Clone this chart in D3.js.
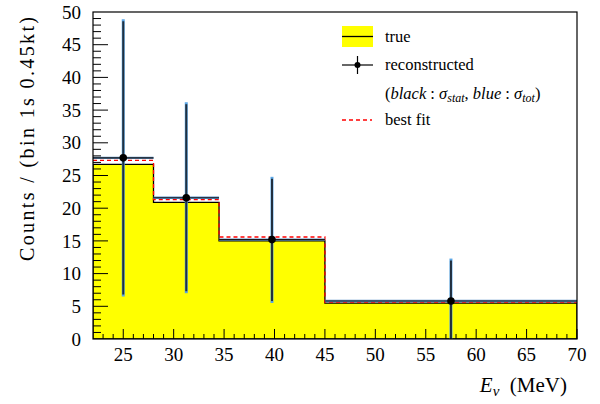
<!DOCTYPE html>
<html>
<head>
<meta charset="utf-8">
<script src="https://cdn.jsdelivr.net/npm/d3@7"></script>
<style>
  body { margin: 0; background: #fff; }
  text { font-family: "Liberation Serif", "DejaVu Serif", serif; fill: #000; }
</style>
</head>
<body>
<svg id="chart" width="600" height="404"></svg>
<script>
// bins (MeV)
const binEdges = [22, 28, 34.5, 45, 70];
const trueCounts = [26.7, 20.9, 15.0, 5.5];
const recoCounts = [27.7, 21.6, 15.2, 5.8];
const fitCounts = [27.3, 21.3, 15.6, 5.6];
// error bar ends [low, high]
const statErr = [[6.8, 48.6], [7.3, 35.9], [5.8, 24.5], [-0.3, 12.0]];
const totErr = [[6.5, 48.9], [7.0, 36.2], [5.5, 24.8], [-0.6, 12.3]];
const xTicks = [25, 30, 35, 40, 45, 50, 55, 60, 65, 70];
const yTicks = [0, 5, 10, 15, 20, 25, 30, 35, 40, 45, 50];

const svg = d3.select("#chart");
const pL = 93, pR = 577, pT = 12, pB = 339;

const x = d3.scaleLinear().domain([22, 70]).range([pL, pR]);
const y = d3.scaleLinear().domain([0, 50]).range([pB, pT]);

svg.append("defs").append("clipPath").attr("id", "plotClip")
  .append("rect")
  .attr("x", pL).attr("y", pT)
  .attr("width", pR - pL).attr("height", pB - pT);

const plot = svg.append("g").attr("clip-path", "url(#plotClip)");

// step path from bin values
function stepPoints(vals) {
  const pts = [[binEdges[0], 0]];
  vals.forEach((v, i) => {
    pts.push([binEdges[i], v]);
    pts.push([binEdges[i + 1], v]);
  });
  pts.push([binEdges[binEdges.length - 1], 0]);
  return pts;
}
const stepLine = d3.line().x(d => x(d[0])).y(d => y(d[1]));

// true histogram: yellow fill, black outline
plot.append("path")
  .attr("d", stepLine(stepPoints(trueCounts)) + "Z")
  .attr("fill", "#ffff00")
  .attr("stroke", "#000")
  .attr("stroke-width", 1.3);

// best fit red dashed
plot.append("path")
  .attr("d", stepLine(stepPoints(fitCounts).slice(1, -1)))
  .attr("fill", "none")
  .attr("stroke", "#ff0000")
  .attr("stroke-width", 1.3)
  .attr("stroke-dasharray", "4,3");

const centers = recoCounts.map((v, i) => (binEdges[i] + binEdges[i + 1]) / 2);

// reconstructed: horizontal bin-width bars
const reco = plot.append("g");
recoCounts.forEach((v, i) => {
  reco.append("line")
    .attr("x1", x(binEdges[i])).attr("x2", x(binEdges[i + 1]))
    .attr("y1", y(v)).attr("y2", y(v))
    .attr("stroke", "#5a90c8").attr("stroke-width", 2.4);
  reco.append("line")
    .attr("x1", x(binEdges[i])).attr("x2", x(binEdges[i + 1]))
    .attr("y1", y(v)).attr("y2", y(v))
    .attr("stroke", "#1a1a1a").attr("stroke-width", 1.1);
});

// total error (blue), stat error (black)
reco.selectAll(".tot").data(totErr).join("line")
  .attr("x1", (d, i) => x(centers[i])).attr("x2", (d, i) => x(centers[i]))
  .attr("y1", d => y(d[0])).attr("y2", d => y(d[1]))
  .attr("stroke", "#5aa6e6").attr("stroke-width", 3);
reco.selectAll(".stat").data(statErr).join("line")
  .attr("x1", (d, i) => x(centers[i])).attr("x2", (d, i) => x(centers[i]))
  .attr("y1", d => y(d[0])).attr("y2", d => y(d[1]))
  .attr("stroke", "#22303f").attr("stroke-width", 2);

reco.selectAll("circle").data(recoCounts).join("circle")
  .attr("cx", (d, i) => x(centers[i]))
  .attr("cy", d => y(d))
  .attr("r", 3.8)
  .attr("fill", "#000");

// frame
svg.append("rect")
  .attr("x", pL).attr("y", pT)
  .attr("width", pR - pL).attr("height", pB - pT)
  .attr("fill", "none").attr("stroke", "#000").attr("stroke-width", 1.2);

// x axis ticks (inside)
const xAxis = svg.append("g");
d3.range(23, 71).forEach(v => {
  const major = v % 5 === 0;
  xAxis.append("line")
    .attr("x1", x(v)).attr("x2", x(v))
    .attr("y1", pB).attr("y2", pB - (major ? 10 : 5))
    .attr("stroke", "#000").attr("stroke-width", 1);
});
xAxis.selectAll("text").data(xTicks).join("text")
  .attr("x", d => x(d)).attr("y", 361)
  .attr("text-anchor", "middle")
  .style("font-size", "19px")
  .text(d => d);

// y axis ticks (inside)
const yAxis = svg.append("g");
d3.range(1, 50).forEach(v => {
  const major = v % 5 === 0;
  yAxis.append("line")
    .attr("x1", pL).attr("x2", pL + (major ? 15 : 8))
    .attr("y1", y(v)).attr("y2", y(v))
    .attr("stroke", "#000").attr("stroke-width", 1);
});
yAxis.selectAll("text").data(yTicks).join("text")
  .attr("x", 81).attr("y", d => y(d))
  .attr("dy", "0.35em")
  .attr("text-anchor", "end")
  .style("font-size", "19px")
  .text(d => d);

// axis titles
svg.append("text")
  .attr("transform", `translate(34,${pT + 5}) rotate(-90)`)
  .attr("text-anchor", "end")
  .attr("textLength", 244)
  .attr("lengthAdjust", "spacing")
  .style("font-size", "20px")
  .text("Counts / (bin 1s 0.45kt)");

const xt = svg.append("text")
  .attr("x", 567).attr("y", 392)
  .attr("text-anchor", "end")
  .style("font-size", "21px");
xt.append("tspan").style("font-style", "italic").text("E");
xt.append("tspan").style("font-style", "italic").style("font-size", "15px")
  .attr("dy", 4).text("ν");
xt.append("tspan").attr("dy", -4).text("\u00a0\u00a0(MeV)");

// legend
const lg = svg.append("g");
const fs = "16.5px";
lg.append("rect")
  .attr("x", 342).attr("y", 26).attr("width", 31).attr("height", 21)
  .attr("fill", "#ffff00");
lg.append("line")
  .attr("x1", 342).attr("x2", 373).attr("y1", 36.5).attr("y2", 36.5)
  .attr("stroke", "#000").attr("stroke-width", 1.3);
lg.append("text").attr("x", 385).attr("y", 37).attr("dy", "0.32em")
  .style("font-size", fs).text("true");

lg.append("line")
  .attr("x1", 342).attr("x2", 373).attr("y1", 65).attr("y2", 65)
  .attr("stroke", "#000").attr("stroke-width", 1.2);
lg.append("line")
  .attr("x1", 357.5).attr("x2", 357.5).attr("y1", 56).attr("y2", 74)
  .attr("stroke", "#000").attr("stroke-width", 1.2);
lg.append("circle").attr("cx", 357.5).attr("cy", 65).attr("r", 3).attr("fill", "#000");
lg.append("text").attr("x", 385).attr("y", 65).attr("dy", "0.32em")
  .style("font-size", fs).text("reconstructed");

const mt = lg.append("text").attr("x", 385).attr("y", 94).attr("dy", "0.32em")
  .style("font-size", fs);
mt.append("tspan").text("(");
mt.append("tspan").style("font-style", "italic").text("black");
mt.append("tspan").text(" : ");
mt.append("tspan").style("font-style", "italic").text("σ");
mt.append("tspan").style("font-style", "italic").style("font-size", "12px").attr("dy", 3).text("stat");
mt.append("tspan").attr("dy", -3).text(", ");
mt.append("tspan").style("font-style", "italic").text("blue");
mt.append("tspan").text(" : ");
mt.append("tspan").style("font-style", "italic").text("σ");
mt.append("tspan").style("font-style", "italic").style("font-size", "12px").attr("dy", 3).text("tot");
mt.append("tspan").attr("dy", -3).text(")");

lg.append("line")
  .attr("x1", 342).attr("x2", 372).attr("y1", 120).attr("y2", 120)
  .attr("stroke", "#ff0000").attr("stroke-width", 1.3)
  .attr("stroke-dasharray", "4,3");
lg.append("text").attr("x", 385).attr("y", 120).attr("dy", "0.32em")
  .style("font-size", fs).text("best fit");
</script>
</body>
</html>
